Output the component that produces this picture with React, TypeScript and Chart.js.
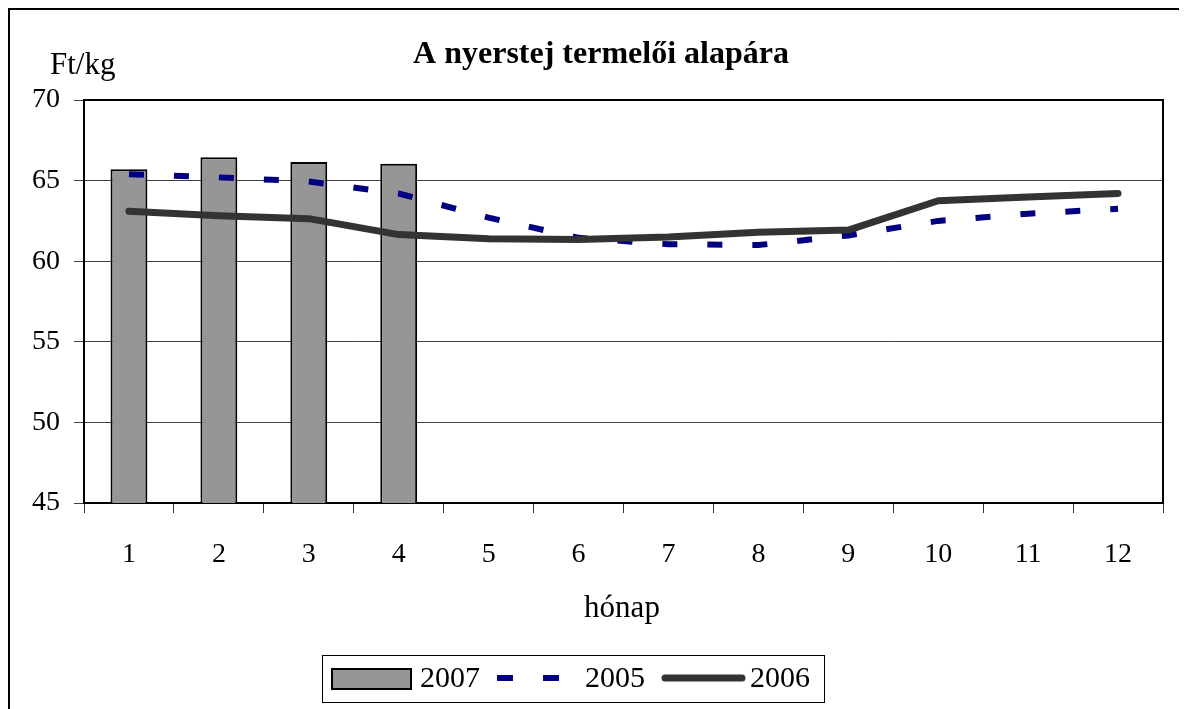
import React, { useEffect, useRef } from "react";
import { Chart, registerables } from "chart.js";

Chart.register(...registerables);

const categories = ["1", "2", "3", "4", "5", "6", "7", "8", "9", "10", "11", "12"];
const values2007 = [65.7, 66.45, 66.15, 66.05, null, null, null, null, null, null, null, null];
const values2005 = [65.4, 65.2, 64.95, 64.2, 62.7, 61.45, 61.05, 61.0, 61.6, 62.5, 62.95, 63.25];
const values2006 = [63.1, 62.82, 62.64, 61.65, 61.4, 61.35, 61.5, 61.8, 61.93, 63.75, 63.98, 64.2];
const seriesLabels = ["2007", "2005", "2006"];
const yTicks = [45, 50, 55, 60, 65, 70];

const titleText = "A nyerstej termelői alapára";
const yUnit = "Ft/kg";
const xTitle = "hónap";

const FONT = "'Liberation Serif', 'Times New Roman', serif";
const BAR_FILL = "#969696";
const DASH_COLOR = "#000080";
const SOLID_COLOR = "#333333";

const textPlugin = {
  id: "customText",
  beforeDatasetsDraw(chart: any) {
    const { ctx, chartArea } = chart;
    ctx.save();
    ctx.strokeStyle = "#000";
    ctx.lineWidth = 2;
    ctx.strokeRect(chartArea.left, chartArea.top, chartArea.right - chartArea.left, chartArea.bottom - chartArea.top);
    ctx.restore();
  },
  afterDraw(chart: any) {
    const { ctx } = chart;
    ctx.save();
    ctx.fillStyle = "#000";
    ctx.textBaseline = "alphabetic";
    // title
    ctx.font = `bold 32px ${FONT}`;
    ctx.textAlign = "center";
    ctx.fillText(titleText, 591, 53);
    // unit
    ctx.font = `31px ${FONT}`;
    ctx.textAlign = "left";
    ctx.fillText(yUnit, 40, 64);
    // x title
    ctx.textAlign = "center";
    ctx.fillText(xTitle, 612, 607);

    // legend
    const bx = 312, by = 645, bw = 502, bh = 47;
    ctx.fillStyle = "#fff";
    ctx.fillRect(bx, by, bw, bh);
    ctx.strokeStyle = "#000";
    ctx.lineWidth = 1;
    ctx.strokeRect(bx + 0.5, by + 0.5, bw, bh);
    const cy = 668;
    ctx.font = `30px ${FONT}`;
    ctx.textAlign = "left";
    ctx.textBaseline = "middle";
    // bar swatch
    ctx.fillStyle = BAR_FILL;
    ctx.fillRect(322, 659, 79, 20);
    ctx.strokeStyle = "#000";
    ctx.lineWidth = 2;
    ctx.strokeRect(322, 659, 79, 20);
    ctx.fillStyle = "#000";
    ctx.fillText(seriesLabels[0], 410, cy + 1);
    // dashed swatch
    ctx.beginPath();
    ctx.strokeStyle = DASH_COLOR;
    ctx.lineWidth = 6;
    ctx.lineCap = "butt";
    ctx.setLineDash([16, 30]);
    ctx.moveTo(487, cy);
    ctx.lineTo(567, cy);
    ctx.stroke();
    ctx.setLineDash([]);
    ctx.fillText(seriesLabels[1], 575, cy + 1);
    // solid swatch
    ctx.beginPath();
    ctx.strokeStyle = SOLID_COLOR;
    ctx.lineWidth = 7;
    ctx.lineCap = "round";
    ctx.moveTo(655, cy);
    ctx.lineTo(732, cy);
    ctx.stroke();
    ctx.fillText(seriesLabels[2], 740, cy + 1);
    ctx.restore();
  },
};

export default function App() {
  const ref = useRef<HTMLCanvasElement | null>(null);
  useEffect(() => {
    if (!ref.current) return;
    Chart.defaults.font.family = FONT;
    Chart.defaults.color = "#000";
    const chart = new Chart(ref.current, {
      type: "bar",
      data: {
        labels: categories,
        datasets: [
          {
            type: "bar",
            label: seriesLabels[0],
            data: values2007,
            backgroundColor: BAR_FILL,
            borderColor: "#000",
            borderWidth: 2,
            barPercentage: 0.41,
            categoryPercentage: 1,
            order: 3,
          } as any,
          {
            type: "line",
            label: seriesLabels[1],
            data: values2005,
            borderColor: DASH_COLOR,
            borderWidth: 6,
            borderDash: [15, 30],
            borderCapStyle: "butt",
            pointRadius: 0,
            tension: 0,
            fill: false,
            order: 2,
          } as any,
          {
            type: "line",
            label: seriesLabels[2],
            data: values2006,
            borderColor: SOLID_COLOR,
            borderWidth: 7,
            borderCapStyle: "round",
            borderJoinStyle: "round",
            pointRadius: 0,
            tension: 0,
            fill: false,
            order: 1,
          } as any,
        ],
      },
      options: {
        animation: false,
        responsive: false,
        layout: { padding: { left: 0, top: 90, right: 24, bottom: 106 } },
        plugins: {
          legend: { display: false },
          title: { display: false },
          tooltip: { enabled: false },
        },
        scales: {
          x: {
            offset: true,
            grid: {
              offset: true,
              drawOnChartArea: false,
              drawTicks: true,
              tickLength: 10,
              color: "#333",
              lineWidth: 1,
            },
            border: { display: true, color: "#000", width: 2 },
            ticks: {
              font: { size: 28, family: FONT },
              color: "#000",
              padding: 25,
              maxRotation: 0,
              autoSkip: false,
            },
            afterFit: (scale: any) => {
              scale.height = 100;
            },
          },
          y: {
            min: 45,
            max: 70,
            afterBuildTicks: (scale: any) => {
              scale.ticks = yTicks.map((v) => ({ value: v }));
            },
            grid: {
              color: "#404040",
              lineWidth: 1,
              tickLength: 10,
              drawTicks: true,
            },
            border: { display: true, color: "#000", width: 2 },
            ticks: {
              font: { size: 28, family: FONT },
              color: "#000",
              padding: 14,
            },
            afterFit: (scale: any) => {
              scale.width = 74;
            },
          },
        },
      },
      plugins: [textPlugin],
    });
    return () => chart.destroy();
  }, []);

  return (
    <div
      style={{
        position: "relative",
        width: 1179,
        height: 701,
        boxSizing: "border-box",
        borderLeft: "2px solid #000",
        borderTop: "2px solid #000",
        overflow: "hidden",
        background: "#fff",
      }}
    >
      <canvas ref={ref} width={1177} height={699} style={{ display: "block" }} />
    </div>
  );
}
